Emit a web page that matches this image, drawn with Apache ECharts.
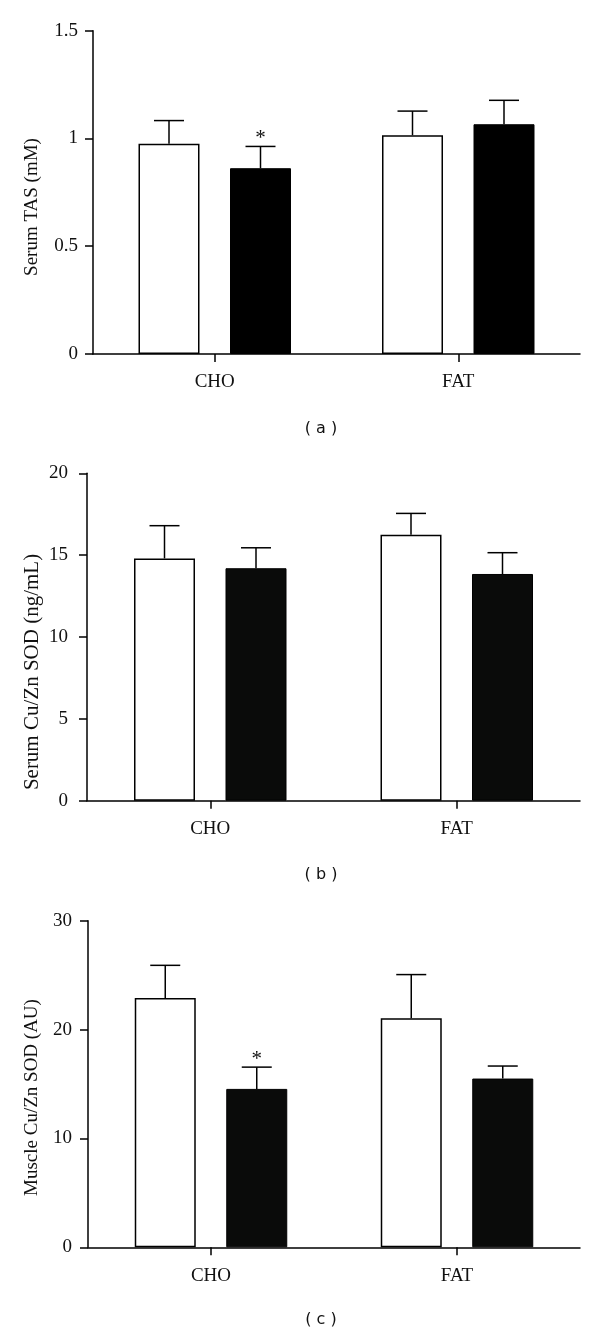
<!DOCTYPE html>
<html>
<head>
<meta charset="utf-8">
<script src="https://cdn.jsdelivr.net/npm/echarts@6/dist/echarts.min.js"></script>
<style>
html,body{margin:0;padding:0;background:#fff;}
#chart{width:600px;height:1336px;}
</style>
</head>
<body>
<div id="chart"></div>
<script>
// ---- Data ----
const categories = ['CHO', 'FAT'];

// (a) Serum TAS (mM)
const tasWhite = [0.975, 1.015];
const tasWhiteSem = [0.108, 0.112];
const tasBlack = [0.862, 1.066];
const tasBlackSem = [0.101, 0.111];
const tasBlackStar = [true, false];

// (b) Serum Cu/Zn SOD (ng/mL)
const sodSerumWhite = [14.8, 16.25];
const sodSerumWhiteSem = [2.0, 1.3];
const sodSerumBlack = [14.2, 13.85];
const sodSerumBlackSem = [1.25, 1.3];

// (c) Muscle Cu/Zn SOD (AU)
const sodMuscleWhite = [22.9, 21.05];
const sodMuscleWhiteSem = [3.0, 4.0];
const sodMuscleBlack = [14.55, 15.5];
const sodMuscleBlackSem = [2.0, 1.15];
const sodMuscleBlackStar = [true, false];

// axis ranges / ticks
const tasAxis = {min: 0, max: 1.5, interval: 0.5};
const serumAxis = {min: 0, max: 20, interval: 5};
const muscleAxis = {min: 0, max: 30, interval: 10};

const yNames = ['Serum TAS (mM)', 'Serum Cu/Zn SOD (ng/mL)', 'Muscle Cu/Zn SOD (AU)'];
const panelLabels = ['( a )', '( b )', '( c )'];

// ---- Layout / style ----
const SERIF = '"Liberation Serif", "DejaVu Serif", serif';
const BAR_W = 61;
const BAR_GAP = 0.5;
const OFFSET = (BAR_W + BAR_W * BAR_GAP) / 2;
const CAP = 15;

const grids = [
  {left: 93, top: 30.7, width: 487, height: 323.3},
  {left: 87, top: 473.3, width: 493, height: 327.4},
  {left: 88, top: 920.7, width: 492, height: 326.6}
];
const labelMargins = [15, 19, 16];
const blackColors = ['#000000', '#0a0b0a', '#0a0b0a'];

function xAxisDef(i) {
  return {
    type: 'category', gridIndex: i, data: categories,
    axisLine: {show: true, lineStyle: {color: '#000', width: 1.5}},
    axisTick: {show: true, alignWithLabel: true, length: 8, lineStyle: {color: '#000', width: 1.5}},
    axisLabel: {color: '#111', fontFamily: SERIF, fontSize: 19, margin: 19},
    splitLine: {show: false}
  };
}
function yAxisDef(i, ax) {
  return {
    type: 'value', gridIndex: i, min: ax.min, max: ax.max, interval: ax.interval,
    axisLine: {show: true, lineStyle: {color: '#000', width: 1.5}},
    axisTick: {show: true, length: 8, lineStyle: {color: '#000', width: 1.5}},
    axisLabel: {color: '#111', fontFamily: SERIF, fontSize: 19, margin: labelMargins[i]},
    splitLine: {show: false}
  };
}

function barSeries(i, values, black) {
  return {
    type: 'bar', xAxisIndex: i, yAxisIndex: i, data: values,
    barWidth: BAR_W, barGap: (BAR_GAP * 100) + '%',
    itemStyle: black
      ? {color: blackColors[i], borderColor: '#000', borderWidth: 1}
      : {color: '#fff', borderColor: '#000', borderWidth: 1.5},
    emphasis: {disabled: true},
    z: 2
  };
}

function errSeries(i, values, sems, side, stars) {
  const data = values.map((v, k) => [k, v, sems[k], side, stars && stars[k] ? 1 : 0]);
  return {
    type: 'custom', xAxisIndex: i, yAxisIndex: i, data: data, z: 5,
    renderItem: function (params, api) {
      const x = api.value(0), v = api.value(1), e = api.value(2), s = api.value(3), st = api.value(4);
      const p0 = api.coord([x, v]);
      const p1 = api.coord([x, v + e]);
      const cx = p0[0] + s * OFFSET;
      const children = [
        {type: 'line', shape: {x1: cx, y1: p0[1], x2: cx, y2: p1[1]}, style: {stroke: '#000', lineWidth: 1.5}},
        {type: 'line', shape: {x1: cx - CAP, y1: p1[1], x2: cx + CAP, y2: p1[1]}, style: {stroke: '#000', lineWidth: 1.5}}
      ];
      if (st) {
        children.push({
          type: 'text',
          style: {text: '*', x: cx, y: p1[1] - 8, align: 'center', verticalAlign: 'middle',
                  font: '21px ' + SERIF, fill: '#111'}
        });
      }
      return {type: 'group', children: children};
    }
  };
}

const option = {
  animation: false,
  backgroundColor: '#fff',
  grid: grids,
  xAxis: [xAxisDef(0), xAxisDef(1), xAxisDef(2)],
  yAxis: [yAxisDef(0, tasAxis), yAxisDef(1, serumAxis), yAxisDef(2, muscleAxis)],
  series: [
    barSeries(0, tasWhite, false),
    barSeries(0, tasBlack, true),
    errSeries(0, tasWhite, tasWhiteSem, -1, null),
    errSeries(0, tasBlack, tasBlackSem, 1, tasBlackStar),

    barSeries(1, sodSerumWhite, false),
    barSeries(1, sodSerumBlack, true),
    errSeries(1, sodSerumWhite, sodSerumWhiteSem, -1, null),
    errSeries(1, sodSerumBlack, sodSerumBlackSem, 1, null),

    barSeries(2, sodMuscleWhite, false),
    barSeries(2, sodMuscleBlack, true),
    errSeries(2, sodMuscleWhite, sodMuscleWhiteSem, -1, null),
    errSeries(2, sodMuscleBlack, sodMuscleBlackSem, 1, sodMuscleBlackStar)
  ],
  graphic: [
    {type: 'text', x: 32.5, y: 207, rotation: Math.PI / 2,
     style: {text: yNames[0], font: '19px ' + SERIF, fill: '#111', align: 'center', verticalAlign: 'middle'}},
    {type: 'text', x: 32.5, y: 672, rotation: Math.PI / 2,
     style: {text: yNames[1], font: '21px ' + SERIF, fill: '#111', align: 'center', verticalAlign: 'middle'}},
    {type: 'text', x: 32.5, y: 1097.5, rotation: Math.PI / 2,
     style: {text: yNames[2], font: '19px ' + SERIF, fill: '#111', align: 'center', verticalAlign: 'middle'}},
    {type: 'text', x: 321, y: 429,
     style: {text: panelLabels[0], font: '16px "DejaVu Sans", sans-serif', fill: '#111', align: 'center', verticalAlign: 'middle'}},
    {type: 'text', x: 321, y: 875,
     style: {text: panelLabels[1], font: '16px "DejaVu Sans", sans-serif', fill: '#111', align: 'center', verticalAlign: 'middle'}},
    {type: 'text', x: 321, y: 1320,
     style: {text: panelLabels[2], font: '16px "DejaVu Sans", sans-serif', fill: '#111', align: 'center', verticalAlign: 'middle'}}
  ]
};

const chart = echarts.init(document.getElementById('chart'), null, {renderer: 'canvas'});
chart.setOption(option);
</script>
</body>
</html>
